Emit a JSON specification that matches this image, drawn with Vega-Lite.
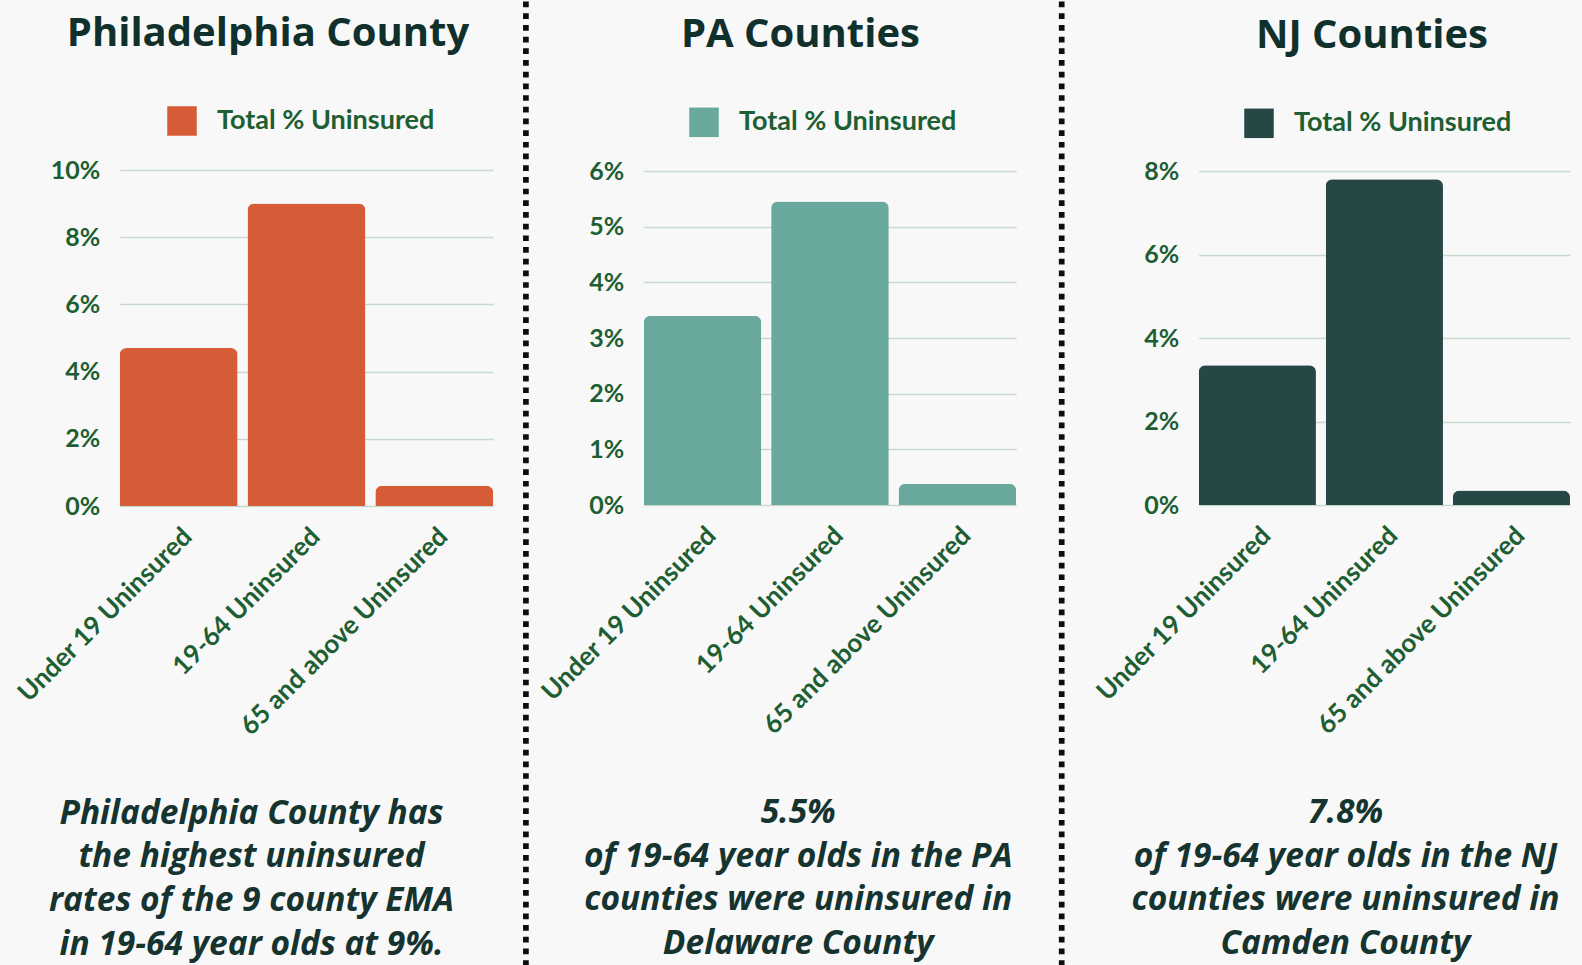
{
  "$schema": "https://vega.github.io/schema/vega-lite/v6.json",
  "background": "#f8f8f8",
  "autosize": {"type": "none"},
  "padding": {"left": 119.7, "top": 170, "right": 1462.3, "bottom": 795},
  "spacing": 0,
  "bounds": "flush",
  "center": true,
  "datasets": {
    "philadelphia": [
      {"group": "Under 19 Uninsured", "uninsured": 0.047, "series": "Total % Uninsured"},
      {"group": "19-64 Uninsured", "uninsured": 0.09, "series": "Total % Uninsured"},
      {"group": "65 and above Uninsured", "uninsured": 0.006, "series": "Total % Uninsured"}
    ],
    "pa": [
      {"group": "Under 19 Uninsured", "uninsured": 0.034, "series": "Total % Uninsured"},
      {"group": "19-64 Uninsured", "uninsured": 0.0545, "series": "Total % Uninsured"},
      {"group": "65 and above Uninsured", "uninsured": 0.0038, "series": "Total % Uninsured"}
    ],
    "nj": [
      {"group": "Under 19 Uninsured", "uninsured": 0.0335, "series": "Total % Uninsured"},
      {"group": "19-64 Uninsured", "uninsured": 0.078, "series": "Total % Uninsured"},
      {"group": "65 and above Uninsured", "uninsured": 0.0035, "series": "Total % Uninsured"}
    ],
    "divider": [{"section": "break"}]
  },
  "hconcat": [
    {
      "width": 373.6,
      "height": 336,
      "data": {"name": "philadelphia"},
      "title": {"text": "Philadelphia County", "dx": -38.5},
      "mark": {"type": "bar", "cornerRadiusEnd": 7},
      "encoding": {
        "x": {
          "field": "group", "type": "nominal", "sort": null,
          "scale": {"paddingInner": 0.077, "paddingOuter": 0},
          "axis": {
            "title": ["Philadelphia County has", "the highest uninsured", "rates of the 9 county EMA", "in 19-64 year olds at 9%."],
            "titleX": 131.3, "titleY": 317.3
          }
        },
        "y": {
          "field": "uninsured", "type": "quantitative",
          "scale": {"domain": [0, 0.1]},
          "axis": {"title": null, "values": [0, 0.02, 0.04, 0.06, 0.08, 0.1]}
        },
        "color": {
          "field": "series", "type": "nominal",
          "scale": {"range": ["#d65c37"]},
          "legend": {"legendX": 47.3, "legendY": -64}
        }
      }
    },
    {
      "width": 149.7,
      "height": 334,
      "data": {"name": "divider"},
      "mark": {"type": "rule", "color": "#0d0d0d", "strokeWidth": 5.7, "strokeDash": [5.7, 5.99], "strokeDashOffset": 10.08},
      "encoding": {"x": {"value": 32.2}, "y": {"value": -171}, "y2": {"value": 794}}
    },
    {
      "width": 372.5,
      "height": 334,
      "data": {"name": "pa"},
      "title": {"text": "PA Counties", "dx": -29.5},
      "mark": {"type": "bar", "cornerRadiusEnd": 7},
      "encoding": {
        "x": {
          "field": "group", "type": "nominal", "sort": null,
          "scale": {"paddingInner": 0.077, "paddingOuter": 0},
          "axis": {
            "title": ["5.5%", "of 19-64 year olds in the PA", "counties were uninsured in", "Delaware County"],
            "titleX": 154, "titleY": 317.5
          }
        },
        "y": {
          "field": "uninsured", "type": "quantitative",
          "scale": {"domain": [0, 0.06]},
          "axis": {"title": null, "values": [0, 0.01, 0.02, 0.03, 0.04, 0.05, 0.06]}
        },
        "color": {
          "field": "series", "type": "nominal",
          "scale": {"range": ["#69a89c"]},
          "legend": {"legendX": 45.3, "legendY": -63.7}
        }
      }
    },
    {
      "width": 181.2,
      "height": 334,
      "data": {"name": "divider"},
      "mark": {"type": "rule", "color": "#0d0d0d", "strokeWidth": 5.7, "strokeDash": [5.7, 5.99], "strokeDashOffset": 10.08},
      "encoding": {"x": {"value": 45}, "y": {"value": -171}, "y2": {"value": 794}}
    },
    {
      "width": 371.3,
      "height": 334,
      "data": {"name": "nj"},
      "title": {"text": "NJ Counties", "dx": -12.4},
      "mark": {"type": "bar", "cornerRadiusEnd": 7},
      "encoding": {
        "x": {
          "field": "group", "type": "nominal", "sort": null,
          "scale": {"paddingInner": 0.077, "paddingOuter": 0},
          "axis": {
            "title": ["7.8%", "of 19-64 year olds in the NJ", "counties were uninsured in", "Camden County"],
            "titleX": 146.3, "titleY": 317.5
          }
        },
        "y": {
          "field": "uninsured", "type": "quantitative",
          "scale": {"domain": [0, 0.08]},
          "axis": {"title": null, "values": [0, 0.02, 0.04, 0.06, 0.08]}
        },
        "color": {
          "field": "series", "type": "nominal",
          "scale": {"range": ["#274747"]},
          "legend": {"legendX": 45.3, "legendY": -62.7}
        }
      }
    }
  ],
  "resolve": {
    "scale": {"color": "independent", "x": "independent", "y": "independent"},
    "legend": {"color": "independent"}
  },
  "config": {
    "view": {"stroke": null},
    "axis": {"domain": false, "ticks": false, "labelFont": "Lato", "labelFontWeight": "bold", "labelColor": "#1e5e33"},
    "axisY": {"labelFontSize": 25, "labelPadding": 20, "gridColor": "#c8dace", "gridWidth": 1.5, "format": ".0%"},
    "axisX": {
      "labelFontSize": 26, "labelAngle": -45, "labelPadding": 17, "labelLimit": 1000, "labelOverlap": false, "grid": false,
      "titleFont": "Open Sans", "titleFontStyle": "italic", "titleFontWeight": "bold", "titleFontSize": 33.5,
      "titleColor": "#15332f", "titleLineHeight": 43.7, "titleAlign": "center", "titleBaseline": "alphabetic", "titleLimit": 2000, "titleAngle": 0
    },
    "title": {"font": "Open Sans", "fontSize": 40, "fontWeight": 700, "color": "#10302c", "anchor": "middle", "frame": "group", "baseline": "alphabetic", "offset": 52},
    "legend": {
      "orient": "none", "title": null, "symbolType": "square", "symbolSize": 870, "symbolStrokeWidth": 0,
      "labelFont": "Lato", "labelFontSize": 27, "labelFontWeight": "bold", "labelColor": "#1e5e33", "labelOffset": 20, "labelLimit": 1000, "padding": 0
    }
  }
}
